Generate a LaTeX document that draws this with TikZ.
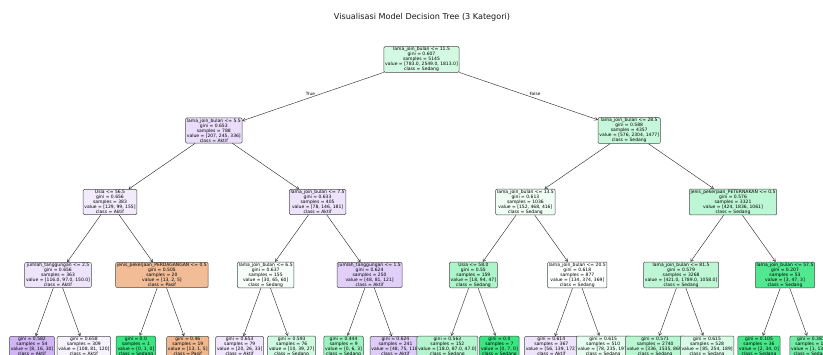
\documentclass[tikz,border=0pt]{standalone}
\usepackage{fontspec}
\setmainfont{DejaVu Sans}
\usetikzlibrary{arrows.meta}
\definecolor{cP}{HTML}{E58139}
\definecolor{cS}{HTML}{39E581}
\definecolor{cA}{HTML}{8139E5}
\tikzset{
  tn/.style={draw=black!70, line width=0.5pt, rounded corners=1.2pt, align=center,
    inner xsep=1.3pt, inner ysep=0.8pt, font=\fontsize{4.5}{5}\selectfont},
  ed/.style={-{Straight Barb[length=2.6pt,width=3.2pt]}, draw=black!80, line width=0.45pt},
  elab/.style={font=\fontsize{4.3}{5}\selectfont, inner sep=0pt},
}
\begin{document}
\begin{tikzpicture}[x=1pt,y=-1pt]
\clip (0,0) rectangle (823,354);
\fill[white] (0,0) rectangle (823,354);
\node[font=\fontsize{8.1}{9}\selectfont, text=black!90] (title) at (422,17) {Visualisasi Model Decision Tree (3 Kategori)};
% root
\node[tn, fill=cS!22!white] (r) at (421.5,59.5) {lama\_join\_bulan <= 11.5\\gini = 0.607\\samples = 5145\\value = [783.0, 2549.0, 1813.0]\\class = Sedang};
% level 1
\node[tn, fill=cA!17!white] (a) at (213.8,130.5) {lama\_join\_bulan <= 5.5\\gini = 0.653\\samples = 788\\value = [207, 245, 336]\\class = Aktif};
\node[tn, fill=cS!29!white] (b) at (629.2,130.5) {lama\_join\_bulan <= 28.5\\gini = 0.588\\samples = 4357\\value = [576, 2304, 1477]\\class = Sedang};
% level 2
\node[tn, fill=cA!10!white] (a1) at (110,202) {Usia <= 56.5\\gini = 0.656\\samples = 383\\value = [129, 99, 155]\\class = Aktif};
\node[tn, fill=cA!14!white] (a2) at (317.6,202) {lama\_join\_bulan <= 7.5\\gini = 0.633\\samples = 405\\value = [78, 146, 181]\\class = Aktif};
\node[tn, fill=cS!8!white] (b1) at (525.4,202) {lama\_join\_bulan <= 13.5\\gini = 0.613\\samples = 1036\\value = [152, 468, 416]\\class = Sedang};
\node[tn, fill=cS!34!white] (b2) at (733,202) {jenis\_pekerjaan\_PETERNAKAN <= 0.5\\gini = 0.576\\samples = 3321\\value = [424, 1836, 1061]\\class = Sedang};
% level 3
\node[tn, fill=cA!14!white] (c1) at (58,275) {jumlah\_tanggungan <= 2.5\\gini = 0.656\\samples = 363\\value = [116.0, 97.0, 150.0]\\class = Aktif};
\node[tn, fill=cP!53!white] (c2) at (161.9,275) {jenis\_pekerjaan\_PERDAGANGAN <= 0.5\\gini = 0.505\\samples = 20\\value = [13, 2, 5]\\class = Pasif};
\node[tn, fill=cS!5!white] (c3) at (265.7,275) {lama\_join\_bulan <= 6.5\\gini = 0.637\\samples = 155\\value = [30, 65, 60]\\class = Sedang};
\node[tn, fill=cA!24!white] (c4) at (369.6,275) {jumlah\_tanggungan <= 1.5\\gini = 0.624\\samples = 250\\value = [48, 81, 121]\\class = Aktif};
\node[tn, fill=cS!42!white] (c5) at (473.4,275) {Usia <= 58.0\\gini = 0.55\\samples = 159\\value = [18, 94, 47]\\class = Sedang};
\node[tn, fill=cS!1!white] (c6) at (577.3,275) {lama\_join\_bulan <= 20.5\\gini = 0.618\\samples = 877\\value = [134, 374, 369]\\class = Sedang};
\node[tn, fill=cS!33!white] (c7) at (681.1,275) {lama\_join\_bulan <= 81.5\\gini = 0.579\\samples = 3268\\value = [421.0, 1789.0, 1058.0]\\class = Sedang};
\node[tn, fill=cS!88!white] (c8) at (785,275) {lama\_join\_bulan <= 57.5\\gini = 0.207\\samples = 53\\value = [3, 47, 3]\\class = Sedang};
% leaves
\node[tn, fill=cA!37!white] (d1) at (32,346.5) {gini = 0.582\\samples = 54\\value = [8, 16, 30]\\class = Aktif};
\node[tn, fill=cA!6!white] (d2) at (83.9,346.5) {gini = 0.658\\samples = 309\\value = [108, 81, 120]\\class = Aktif};
\node[tn, fill=cS!100!white] (d3) at (135.9,346.5) {gini = 0.0\\samples = 1\\value = [0, 1, 0]\\class = Sedang};
\node[tn, fill=cP!57!white] (d4) at (187.8,346.5) {gini = 0.46\\samples = 19\\value = [13, 1, 5]\\class = Pasif};
\node[tn, fill=cA!13!white] (d5) at (239.7,346.5) {gini = 0.653\\samples = 79\\value = [20, 26, 33]\\class = Aktif};
\node[tn, fill=cS!24!white] (d6) at (291.7,346.5) {gini = 0.593\\samples = 76\\value = [10, 39, 27]\\class = Sedang};
\node[tn, fill=cS!50!white] (d7) at (343.6,346.5) {gini = 0.444\\samples = 9\\value = [0, 6, 3]\\class = Sedang};
\node[tn, fill=cA!26!white] (d8) at (395.5,346.5) {gini = 0.624\\samples = 241\\value = [48, 75, 118]\\class = Aktif};
\node[tn, fill=cS!38!white] (d9) at (447.4,346.5) {gini = 0.563\\samples = 152\\value = [18.0, 87.0, 47.0]\\class = Sedang};
\node[tn, fill=cS!100!white] (d10) at (499.4,346.5) {gini = 0.0\\samples = 7\\value = [0, 7, 0]\\class = Sedang};
\node[tn, fill=cA!14!white] (d11) at (551.3,346.5) {gini = 0.614\\samples = 367\\value = [56, 139, 172]\\class = Aktif};
\node[tn, fill=cS!12!white] (d12) at (603.2,346.5) {gini = 0.615\\samples = 510\\value = [78, 235, 197]\\class = Sedang};
\node[tn, fill=cS!36!white] (d13) at (655.2,346.5) {gini = 0.571\\samples = 2740\\value = [336, 1535, 869]\\class = Sedang};
\node[tn, fill=cS!19!white] (d14) at (707.1,346.5) {gini = 0.615\\samples = 528\\value = [85, 254, 189]\\class = Sedang};
\node[tn, fill=cS!94!white] (d15) at (759,346.5) {gini = 0.105\\samples = 36\\value = [2, 34, 0]\\class = Sedang};
\node[tn, fill=cS!71!white] (d16) at (810.9,346.5) {gini = 0.381\\samples = 17\\value = [1, 13, 3]\\class = Sedang};
% edges
\draw[ed] (r) -- (a);
\draw[ed] (r) -- (b);
\draw[ed] (a) -- (a1);
\draw[ed] (a) -- (a2);
\draw[ed] (b) -- (b1);
\draw[ed] (b) -- (b2);
\draw[ed] (a1) -- (c1);
\draw[ed] (a1) -- (c2);
\draw[ed] (a2) -- (c3);
\draw[ed] (a2) -- (c4);
\draw[ed] (b1) -- (c5);
\draw[ed] (b1) -- (c6);
\draw[ed] (b2) -- (c7);
\draw[ed] (b2) -- (c8);
\draw[ed] (c1) -- (d1);
\draw[ed] (c1) -- (d2);
\draw[ed] (c2) -- (d3);
\draw[ed] (c2) -- (d4);
\draw[ed] (c3) -- (d5);
\draw[ed] (c3) -- (d6);
\draw[ed] (c4) -- (d7);
\draw[ed] (c4) -- (d8);
\draw[ed] (c5) -- (d9);
\draw[ed] (c5) -- (d10);
\draw[ed] (c6) -- (d11);
\draw[ed] (c6) -- (d12);
\draw[ed] (c7) -- (d13);
\draw[ed] (c7) -- (d14);
\draw[ed] (c8) -- (d15);
\draw[ed] (c8) -- (d16);
\node[elab] (lt) at (310.5,93.5) {True};
\node[elab] (lf) at (535,93.5) {False};
\end{tikzpicture}
\end{document}
